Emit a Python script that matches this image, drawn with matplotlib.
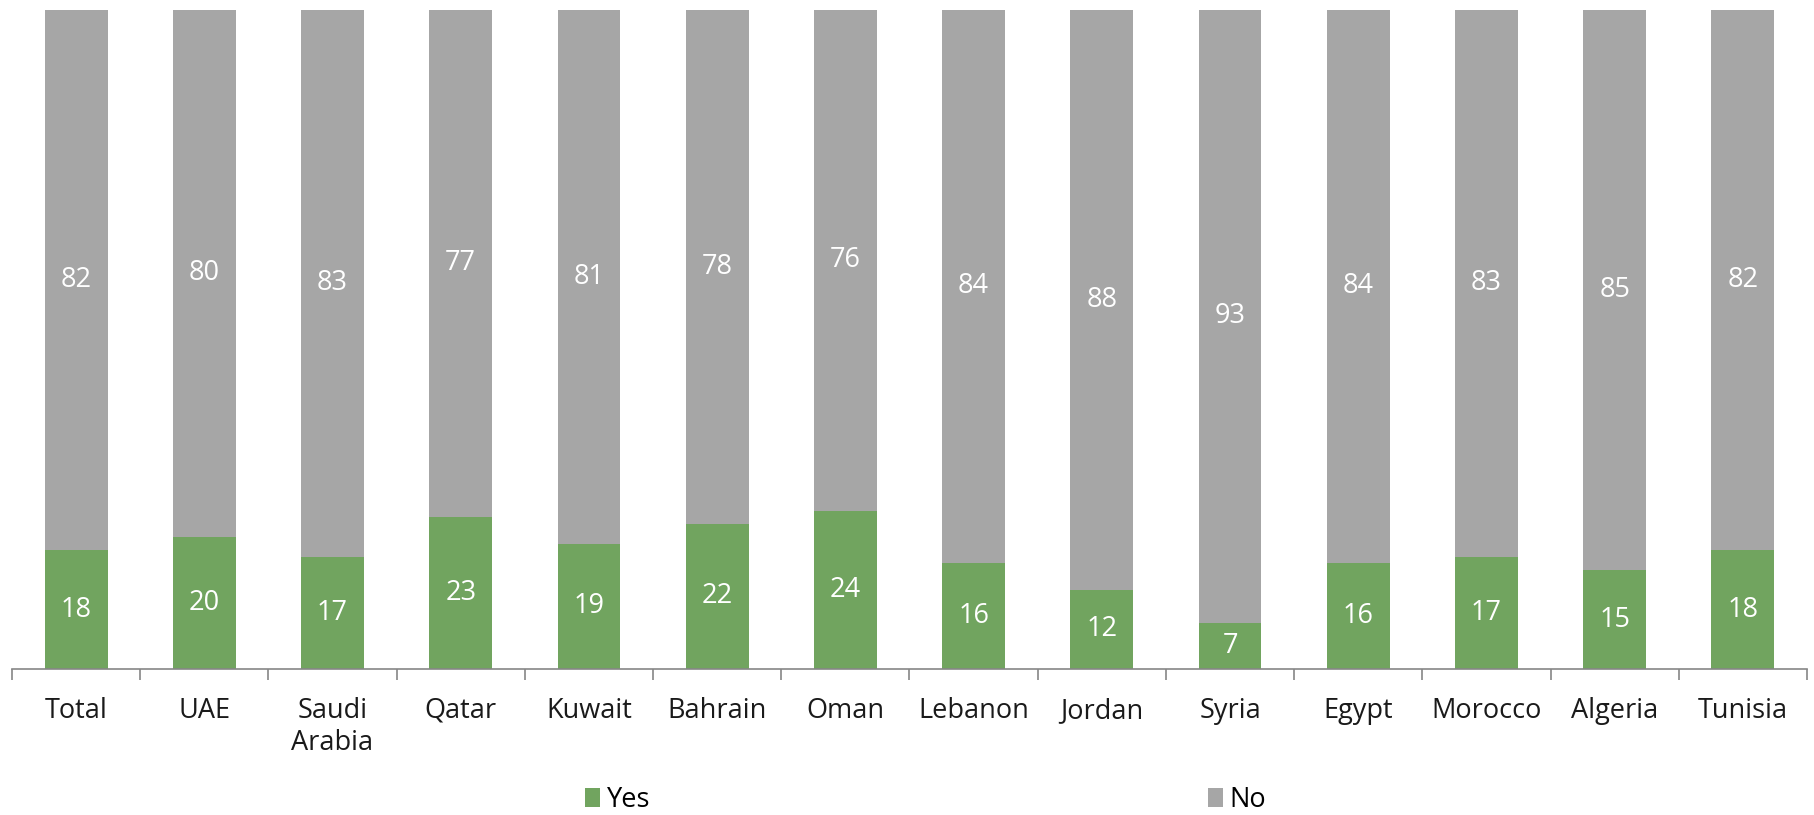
import matplotlib.pyplot as plt
import numpy as np

plt.rcParams['font.family'] = ['Open Sans', 'DejaVu Sans']

countries = ["Total", "UAE", "Saudi\nArabia", "Qatar", "Kuwait", "Bahrain", "Oman",
             "Lebanon", "Jordan", "Syria", "Egypt", "Morocco", "Algeria", "Tunisia"]
yes = [18, 20, 17, 23, 19, 22, 24, 16, 12, 7, 16, 17, 15, 18]
no = [82, 80, 83, 77, 81, 78, 76, 84, 88, 93, 84, 83, 85, 82]

green = '#71A45F'
grey = '#A6A6A6'

fig = plt.figure(figsize=(18.15, 8.15), dpi=100)
ax = fig.add_axes([12 / 1815, 1 - 669 / 815, (1807 - 12) / 1815, (669 - 9.5) / 815])

x = np.arange(len(countries))
b1 = ax.bar(x, yes, width=0.49, color=green, label='Yes')
b2 = ax.bar(x, no, width=0.49, bottom=yes, color=grey, label='No')

# value labels in the middle of each segment
for i in range(len(x)):
    ax.text(x[i], yes[i] / 2, str(yes[i]), ha='center', va='center',
            color='white', fontsize=19.5)
    ax.text(x[i], yes[i] + no[i] / 2, str(no[i]), ha='center', va='center',
            color='white', fontsize=19.5)

ax.set_xlim(-0.5, len(x) - 0.5)
ax.set_ylim(0, 100)
ax.set_yticks([])
for s in ['top', 'right', 'left']:
    ax.spines[s].set_visible(False)
ax.spines['bottom'].set_color('#868686')
ax.spines['bottom'].set_linewidth(1.2)

ax.set_xticks(x)
ax.set_xticklabels(countries, fontsize=19.5, color='#1a1a1a', va='top')
ax.tick_params(axis='x', which='major', length=0, pad=20)
ax.set_xticks(np.arange(-0.5, len(x)), minor=True)
ax.tick_params(axis='x', which='minor', length=8, color='#868686', width=1.2)

fig.legend(handles=[b1, b2], labels=['Yes', 'No'], loc='center',
           bbox_to_anchor=(0.51, 0.018), ncol=2, frameon=False, fontsize=19.5,
           handlelength=0.55, handleheight=0.7, handletextpad=0.25, columnspacing=20.6)

fig.savefig('out.png', dpi=100)
